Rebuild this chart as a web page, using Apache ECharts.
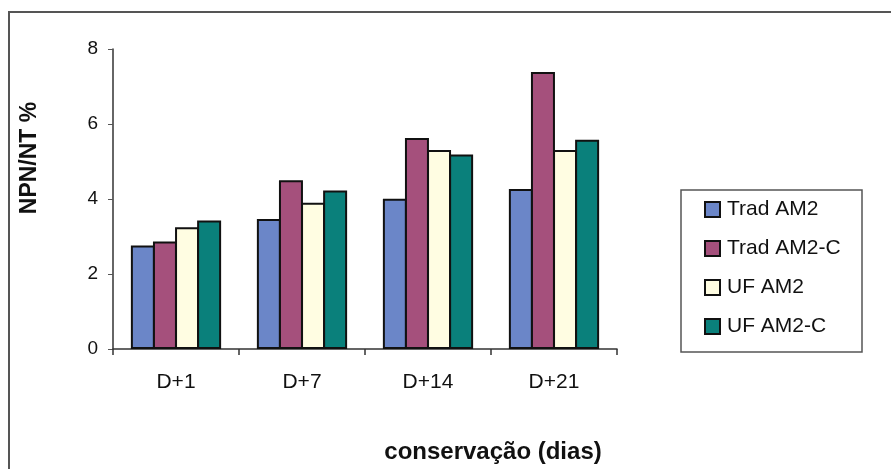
<!DOCTYPE html>
<html>
<head>
<meta charset="utf-8">
<script src="https://cdn.jsdelivr.net/npm/echarts@6/dist/echarts.min.js"></script>
<style>
  html, body { margin: 0; padding: 0; background: #fff; }
  #chart { width: 891px; height: 469px; }
</style>
</head>
<body>
<div id="chart"></div>
<script>
// Days of storage
const categories = ['D+1', 'D+7', 'D+14', 'D+21'];

// NPN/NT % per sample
const tradAM2  = [2.76, 3.47, 4.01, 4.27];
const tradAM2C = [2.87, 4.50, 5.63, 7.39];
const ufAM2    = [3.25, 3.90, 5.31, 5.31];
const ufAM2C   = [3.43, 4.23, 5.19, 5.58];

const seriesNames = ['Trad AM2', 'Trad AM2-C', 'UF AM2', 'UF AM2-C'];
const seriesValues = [tradAM2, tradAM2C, ufAM2, ufAM2C];
const seriesColors = ['#6b86c8', '#a5507c', '#fffde2', '#0a807b'];

const yTicks = { min: 0, max: 8, interval: 2 };

const chart = echarts.init(document.getElementById('chart'), null, { renderer: 'canvas' });

const font = 'Liberation Sans, Arial, sans-serif';

chart.setOption({
  animation: false,
  backgroundColor: '#ffffff',
  grid: { left: 113, right: 274, top: 49, bottom: 120, containLabel: false },
  xAxis: {
    type: 'category',
    data: categories,
    axisLine: { lineStyle: { color: '#333', width: 1.5 } },
    axisTick: { show: true, length: 6, lineStyle: { color: '#333', width: 1.5 } },
    axisLabel: { fontSize: 21, color: '#111', margin: 23, fontFamily: font }
  },
  yAxis: {
    type: 'value',
    min: yTicks.min,
    max: yTicks.max,
    interval: yTicks.interval,
    splitLine: { show: false },
    axisLine: { show: true, lineStyle: { color: '#333', width: 1.5 } },
    axisTick: { show: true, length: 5, lineStyle: { color: '#555', width: 1 } },
    axisLabel: { fontSize: 19, color: '#111', margin: 15, fontFamily: font }
  },
  legend: {
    orient: 'vertical',
    left: 704,
    top: 199,
    padding: 0,
    icon: 'rect',
    itemWidth: 15,
    itemHeight: 15,
    itemGap: 18,
    data: seriesNames,
    textStyle: { fontSize: 21, color: '#111', fontFamily: font, padding: [0, 0, 0, 2] }
  },
  graphic: [
    {
      type: 'rect',
      shape: { x: 9, y: 12, width: 900, height: 480 },
      style: { fill: 'none', stroke: '#555', lineWidth: 2 },
      z: -1
    },
    {
      type: 'rect',
      shape: { x: 681, y: 190, width: 181, height: 162 },
      style: { fill: 'none', stroke: '#555', lineWidth: 1.5 },
      z: -1
    },
    {
      type: 'text',
      x: 30,
      y: 158,
      rotation: Math.PI / 2,
      style: {
        text: 'NPN/NT %',
        font: 'bold 23px ' + font,
        fill: '#111',
        align: 'center',
        verticalAlign: 'middle'
      }
    },
    {
      type: 'text',
      x: 493,
      y: 452,
      style: {
        text: 'conservação (dias)',
        font: 'bold 24px ' + font,
        fill: '#111',
        align: 'center',
        verticalAlign: 'middle'
      }
    }
  ],
  series: seriesNames.map((name, i) => ({
    name,
    type: 'bar',
    data: seriesValues[i],
    barWidth: 24,
    barGap: '-8%',
    itemStyle: {
      color: seriesColors[i],
      borderColor: '#111',
      borderWidth: 2
    }
  }))
});
</script>
</body>
</html>
